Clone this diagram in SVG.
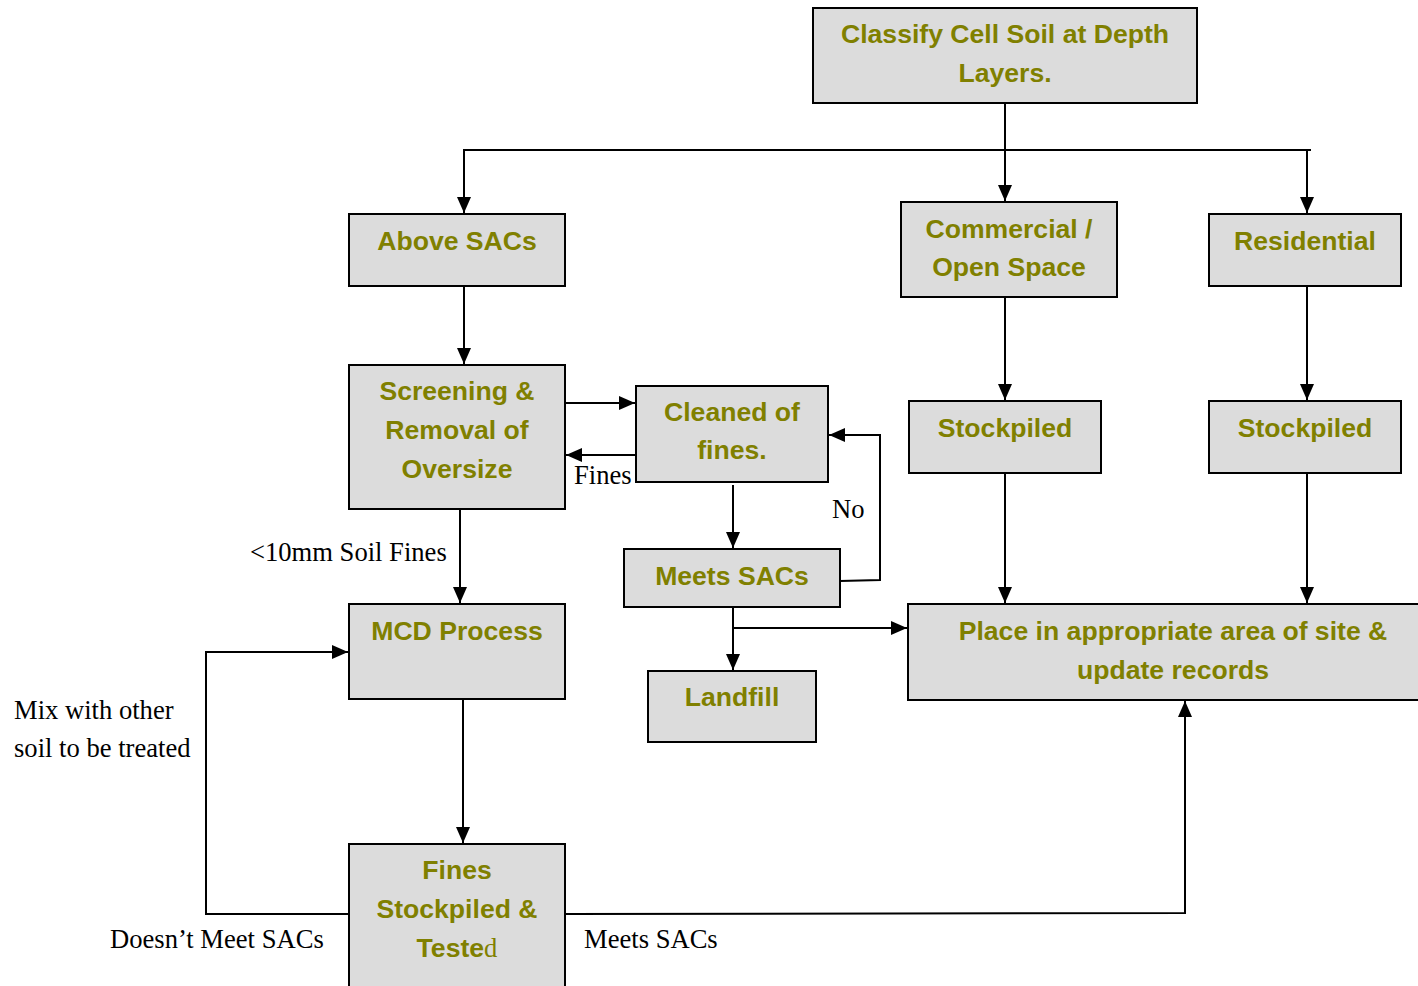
<svg xmlns="http://www.w3.org/2000/svg" width="1418" height="986" viewBox="0 0 1418 986">
  <defs>
    <marker id="arrow" markerUnits="userSpaceOnUse" markerWidth="16" markerHeight="14" viewBox="0 0 16 14" refX="16" refY="7" orient="auto">
      <path d="M0,0 L16,7 L0,14 Z" fill="#000"/>
    </marker>
    <style>
      .box { fill: #dcdcdc; stroke: #000; stroke-width: 2; }
      .lbl { font-family: "Liberation Sans", Arial, sans-serif; font-weight: bold; font-size: 26.6px; fill: #808000; text-anchor: middle; }
      .note { font-family: "Liberation Serif", "Times New Roman", serif; font-size: 26.6px; fill: #000; }
      .ser { font-family: "Liberation Serif", "Times New Roman", serif; font-weight: normal; }
      .line { fill: none; stroke: #000; stroke-width: 2; }
      .arr { fill: none; stroke: #000; stroke-width: 2; marker-end: url(#arrow); }
    </style>
  </defs>

  <!-- connectors -->
  <g id="connectors">
    <line class="arr" x1="1005" y1="103" x2="1005" y2="201"/>
    <line class="line" x1="464" y1="150" x2="1311" y2="150"/>
    <line class="arr" x1="464" y1="149" x2="464" y2="213"/>
    <line class="arr" x1="1307" y1="150" x2="1307" y2="213"/>
    <line class="arr" x1="464" y1="286" x2="464" y2="364"/>
    <line class="arr" x1="565" y1="403" x2="635" y2="403"/>
    <line class="arr" x1="636" y1="455" x2="566" y2="455"/>
    <line class="arr" x1="733" y1="485" x2="733" y2="548"/>
    <polyline class="arr" points="840,581 880,580 880,435 829,435"/>
    <line class="arr" x1="733" y1="607" x2="733" y2="670"/>
    <polyline class="arr" points="733,628 907,628"/>
    <line class="arr" x1="1005" y1="297" x2="1005" y2="400"/>
    <line class="arr" x1="1307" y1="286" x2="1307" y2="400"/>
    <line class="arr" x1="1005" y1="473" x2="1005" y2="603"/>
    <line class="arr" x1="1307" y1="473" x2="1307" y2="603"/>
    <line class="arr" x1="460" y1="509" x2="460" y2="603"/>
    <line class="arr" x1="463" y1="699" x2="463" y2="843"/>
    <polyline class="arr" points="349,914 206,914 206,652 348,652"/>
    <polyline class="arr" points="565,914 1185,913 1185,701"/>
  </g>

  <!-- connector labels -->
  <g id="labels">
    <text class="note" x="574" y="484">Fines</text>
    <text class="note" x="832" y="518">No</text>
    <text class="note" x="250" y="561">&lt;10mm Soil Fines</text>
    <text class="note" x="14" y="719">Mix with other</text>
    <text class="note" x="14" y="757">soil to be treated</text>
    <text class="note" x="110" y="948">Doesn’t Meet SACs</text>
    <text class="note" x="584" y="948">Meets SACs</text>
  </g>

  <g id="classify">
    <rect class="box" x="813" y="8" width="384" height="95"/>
    <text class="lbl" x="1005" y="43">Classify Cell Soil at Depth</text>
    <text class="lbl" x="1005" y="82">Layers.</text>
  </g>

  <g id="above-sacs">
    <rect class="box" x="349" y="214" width="216" height="72"/>
    <text class="lbl" x="457" y="250">Above SACs</text>
  </g>

  <g id="commercial">
    <rect class="box" x="901" y="202" width="216" height="95"/>
    <text class="lbl" x="1009" y="238">Commercial /</text>
    <text class="lbl" x="1009" y="276">Open Space</text>
  </g>

  <g id="residential">
    <rect class="box" x="1209" y="214" width="192" height="72"/>
    <text class="lbl" x="1305" y="250">Residential</text>
  </g>

  <g id="screening">
    <rect class="box" x="349" y="365" width="216" height="144"/>
    <text class="lbl" x="457" y="400">Screening &amp;</text>
    <text class="lbl" x="457" y="439">Removal of</text>
    <text class="lbl" x="457" y="478">Oversize</text>
  </g>

  <g id="cleaned">
    <rect class="box" x="636" y="386" width="192" height="96"/>
    <text class="lbl" x="732" y="421">Cleaned of</text>
    <text class="lbl" x="732" y="459">fines.</text>
  </g>

  <g id="stockpiled-commercial">
    <rect class="box" x="909" y="401" width="192" height="72"/>
    <text class="lbl" x="1005" y="437">Stockpiled</text>
  </g>

  <g id="stockpiled-residential">
    <rect class="box" x="1209" y="401" width="192" height="72"/>
    <text class="lbl" x="1305" y="437">Stockpiled</text>
  </g>

  <g id="meets-sacs">
    <rect class="box" x="624" y="549" width="216" height="58"/>
    <text class="lbl" x="732" y="585">Meets SACs</text>
  </g>

  <g id="landfill">
    <rect class="box" x="648" y="671" width="168" height="71"/>
    <text class="lbl" x="732" y="706">Landfill</text>
  </g>

  <g id="place">
    <rect class="box" x="908" y="604" width="520" height="96"/>
    <text class="lbl" x="1173" y="640">Place in appropriate area of site &amp;</text>
    <text class="lbl" x="1173" y="679">update records</text>
  </g>

  <g id="mcd">
    <rect class="box" x="349" y="604" width="216" height="95"/>
    <text class="lbl" x="457" y="640">MCD Process</text>
  </g>

  <g id="fines-stockpiled">
    <rect class="box" x="349" y="844" width="216" height="160"/>
    <text class="lbl" x="457" y="879">Fines</text>
    <text class="lbl" x="457" y="918">Stockpiled &amp;</text>
    <text class="lbl" x="457" y="957">Teste<tspan class="ser">d</tspan></text>
  </g>
</svg>
